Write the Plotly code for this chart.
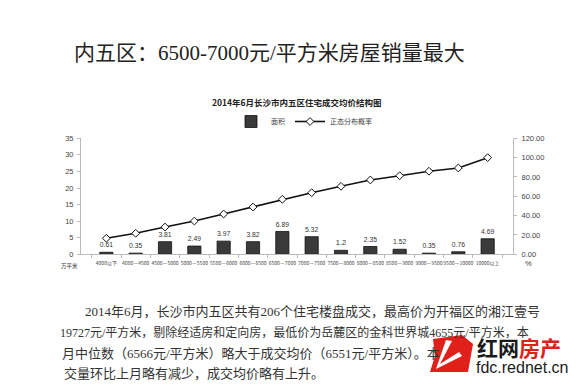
import plotly.graph_objects as go

# ---- data ----
categories = ["4000以下", "4000－4500", "4500－5000", "5000－5500", "5500－6000",
              "6000－6500", "6500－7000", "7000－7500", "7500－8000", "8000－8500",
              "8500－9000", "9000－9500", "9500－10000", "10000以上"]
area = [0.61, 0.35, 3.81, 2.49, 3.97, 3.82, 6.89, 5.32, 1.2, 2.35, 1.52, 0.35, 0.76, 4.69]
prob = [16.6, 21.7, 28.2, 34.4, 41.7, 48.9, 56.9, 63.7, 70.3, 76.9, 81.3, 85.9, 89.3, 100.0]
left_ticks = [0, 5, 10, 15, 20, 25, 30, 35]
right_ticks = [0, 20, 40, 60, 80, 100, 120]

headline = "内五区：6500-7000元/平方米房屋销量最大"
chart_title = "2014年6月长沙市内五区住宅成交均价结构图"
para_lines = [
    "2014年6月，长沙市内五区共有206个住宅楼盘成交，最高价为开福区的湘江壹号",
    "19727元/平方米，剔除经适房和定向房，最低价为岳麓区的金科世界城4655元/平方米，本",
    "月中位数（6566元/平方米）略大于成交均价（6551元/平方米）。本",
    "交量环比上月略有减少，成交均价略有上升。",
]

W, H = 586, 391
def px(x): return x / W
def py(y): return 1 - y / H

CJK = "Noto Sans CJK SC"
SERIF_CJK = "Liberation Serif, Noto Sans CJK SC"
SANS = "Liberation Sans, Arial"

fig = go.Figure()
fig.add_trace(go.Bar(
    x=categories, y=area, name="面积",
    marker=dict(color="#3a3a3a", line=dict(color="#111", width=0.8)),
    text=[str(v) for v in area], textposition="outside",
    textfont=dict(size=7.5, color="#333", family=SANS),
    cliponaxis=False, yaxis="y",
))
fig.add_trace(go.Scatter(
    x=categories, y=prob, name="正态分布概率", mode="lines+markers",
    line=dict(color="#111", width=1.6),
    marker=dict(symbol="diamond", size=6, color="white", line=dict(color="#111", width=1)),
    yaxis="y2",
))

fig.update_layout(
    width=W, height=H, margin=dict(l=0, r=0, t=0, b=0, autoexpand=False),
    paper_bgcolor="white", plot_bgcolor="white",
    bargap=0.55, showlegend=True,
    legend=dict(orientation="h", x=px(231), y=py(107), xanchor="left", yanchor="top",
                font=dict(size=7, family=CJK, color="#444"), itemwidth=30,
                bgcolor="rgba(0,0,0,0)", tracegroupgap=0),
    xaxis=dict(domain=[px(81), px(513)], type="category",
               showline=True, linecolor="#bbb", linewidth=1,
               ticks="outside", tickson="boundaries", ticklen=3, tickcolor="#bbb",
               tickfont=dict(size=5, family=CJK, color="#444"), tickangle=0,
               ticklabelstandoff=4, showgrid=False),
    yaxis=dict(domain=[py(254.3), py(138.3)], range=[0, 35], tickvals=left_ticks,
               showline=True, linecolor="#bbb", linewidth=1, ticks="outside", ticklen=3,
               tickcolor="#bbb", tickfont=dict(size=7.5, family=SANS, color="#444"),
               showgrid=False, zeroline=False, ticklabelstandoff=2),
    yaxis2=dict(overlaying="y", side="right", range=[0, 120], tickvals=right_ticks,
                tickformat=".2f", showline=True, linecolor="#bbb", linewidth=1,
                ticks="outside", ticklen=3, tickcolor="#bbb",
                tickfont=dict(size=7.5, family=SANS, color="#444"),
                showgrid=False, zeroline=False, ticklabelstandoff=3),
)

def note(text, x, y, size, family, color="#333", xanchor="center"):
    return dict(text=text, x=px(x), y=py(y), xref="paper", yref="paper",
                xanchor=xanchor, yanchor="middle", showarrow=False,
                font=dict(size=size, family=family, color=color))

ann = []
ann.append(note(headline, 269, 53, 21, SERIF_CJK, "#222"))
ann.append(note("<b>" + chart_title + "</b>", 297, 102, 8.5, CJK, "#222"))
ann.append(note("万平米", 59, 265.5, 5.5, CJK, "#333", "left"))
ann.append(note("%", 528, 263, 7.5, SANS, "#444"))
line_y = [311, 332, 353, 373]
line_x = [83, 58, 60, 62]
line_size = [13, 12, 13, 13]
for t, xx, yy, ss in zip(para_lines, line_x, line_y, line_size):
    ann.append(note(t, xx, yy, ss, SERIF_CJK, "#333", "left"))

# watermark logo
ann.append(note("<b>红网</b><b><span style='color:#e0201b'>房产</span></b>",
                475, 347, 21, CJK, "#1a1a1a", "left"))
ann.append(note("fdc.rednet.cn", 474, 367, 16, SANS, "#1a1a1a", "left"))
fig.update_layout(annotations=ann)

def path(pts):
    return "M " + " L ".join(f"{px(a):.4f},{py(b):.4f}" for a, b in pts) + " Z"

fig.add_shape(type="path", xref="paper", yref="paper",
              path=path([(433, 339), (462, 335), (473, 344), (468, 372), (430, 372), (435, 356)]),
              fillcolor="#e0201b", line=dict(width=0), layer="above")
fig.add_shape(type="path", xref="paper", yref="paper",
              path=path([(446, 340), (452, 341), (440, 364), (459, 352), (462, 356), (436, 369)]),
              fillcolor="white", line=dict(width=0), layer="above")

fig.write_html("out.html", config={"displayModeBar": False},
               post_script="document.body.style.margin='0';document.body.style.overflow='hidden';")
